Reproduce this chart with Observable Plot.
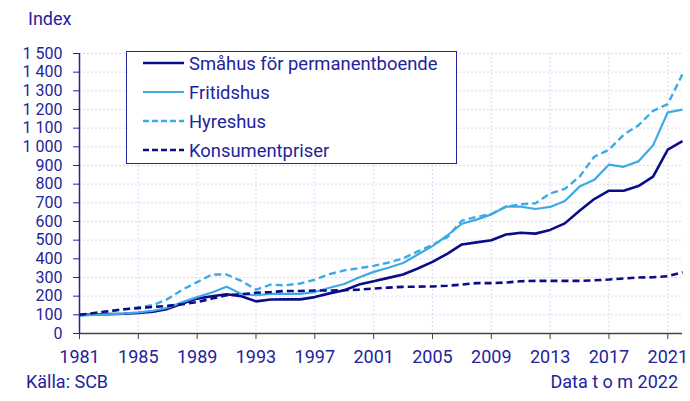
<!DOCTYPE html>
<html>
<head>
<meta charset="utf-8">
<script src="https://cdn.jsdelivr.net/npm/d3@7"></script>
<script src="https://cdn.jsdelivr.net/npm/@observablehq/plot@0.6"></script>
<style>
  html, body { margin: 0; padding: 0; background: #fff; }
  #chart { position: relative; width: 690px; height: 401px; font-family: Roboto, sans-serif; color: #23239c; }
  .note { position: absolute; font-size: 18px; line-height: 20px; white-space: nowrap; }
  #legend { position: absolute; left: 126px; top: 51px; width: 329px; height: 111px;
            border: 1.5px solid #23239c; background: #fff; }
  .item { position: absolute; left: 16px; height: 22px; display: flex; align-items: center; font-size: 18.4px; }
  .item svg { margin-right: 5px; }
</style>
</head>
<body>
<div id="chart"></div>
<script>
// Price indices, 1981 = 100
const years = [1981, 1982, 1983, 1984, 1985, 1986, 1987, 1988, 1989, 1990,
  1991, 1992, 1993, 1994, 1995, 1996, 1997, 1998, 1999, 2000,
  2001, 2002, 2003, 2004, 2005, 2006, 2007, 2008, 2009, 2010,
  2011, 2012, 2013, 2014, 2015, 2016, 2017, 2018, 2019, 2020,
  2021, 2022];

const smahus = [100, 102, 104, 106, 110, 117, 132, 160, 187, 200,
  210, 200, 172, 182, 183, 183, 195, 215, 232, 262,
  280, 298, 316, 348, 384, 427, 477, 488, 500, 530,
  540, 535, 555, 590, 658, 720, 765, 765, 790, 840,
  985, 1030];

const fritidshus = [95, 100, 103, 107, 113, 122, 138, 168, 195, 220,
  250, 212, 205, 212, 212, 212, 222, 245, 265, 300,
  330, 352, 378, 423, 468, 525, 588, 610, 638, 680,
  680, 667, 678, 710, 787, 823, 905, 893, 922, 1008,
  1185, 1199];

const hyreshus = [100, 108, 118, 128, 140, 152, 185, 235, 275, 316,
  316, 282, 235, 262, 258, 268, 288, 318, 338, 350,
  362, 380, 402, 440, 475, 515, 605, 625, 640, 680,
  692, 698, 750, 775, 840, 947, 985, 1065, 1115, 1193,
  1229, 1390];

const konsumentpriser = [100, 110, 120, 130, 136, 142, 148, 157, 168, 187,
  205, 210, 218, 222, 228, 228, 230, 230, 232, 235,
  241, 246, 250, 251, 252, 256, 262, 270, 270, 273,
  280, 282, 282, 282, 282, 285, 289, 295, 300, 301,
  307, 328];

const xTicks = [1981, 1985, 1989, 1993, 1997, 2001, 2005, 2009, 2013, 2017, 2021];
const yTicks = [0, 100, 200, 300, 400, 500, 600, 700, 800, 900, 1000, 1100, 1200, 1300, 1400, 1500];

const series = [
  {name: "Småhus för permanentboende", values: smahus, color: "#0c0c8a", dash: null, width: 2.6},
  {name: "Fritidshus", values: fritidshus, color: "#3fa9e6", dash: null, width: 2.2},
  {name: "Hyreshus", values: hyreshus, color: "#3fa9e6", dash: "7,4", width: 2.4},
  {name: "Konsumentpriser", values: konsumentpriser, color: "#0c0c8a", dash: "7,4", width: 2.6}
];

const textColor = "#23239c";
const gridColor = "#d8d8f4";
const spaced = d => d3.format(",")(d).replace(/,/g, " ");

const lineMarks = series.map(s =>
  Plot.line(years.map((y, i) => ({year: y, value: s.values[i]})), {
    x: "year", y: "value", stroke: s.color, strokeWidth: s.width,
    strokeDasharray: s.dash, strokeLinejoin: "round", strokeLinecap: "butt"
  })
);

const chart = Plot.plot({
  width: 690,
  height: 401,
  marginLeft: 79,
  marginRight: 8,
  marginTop: 53,
  marginBottom: 68,
  style: {fontFamily: "Roboto, sans-serif", fontSize: "18px", background: "white", overflow: "visible"},
  x: {domain: [1981, 2022], label: null},
  y: {domain: [0, 1500], label: null},
  marks: [
    Plot.gridY(yTicks.filter(d => d > 0), {stroke: gridColor, strokeOpacity: 1, strokeDasharray: "2,2"}),
    Plot.gridX(xTicks.filter(d => d > 1981), {stroke: gridColor, strokeOpacity: 1, strokeDasharray: "2,2"}),
    Plot.axisY(yTicks, {tickSize: 6, tickPadding: 11, tickFormat: spaced, stroke: textColor, fill: textColor,
      fontSize: 16, label: null}),
    Plot.axisX(xTicks, {tickSize: 6, tickPadding: 11, tickFormat: "d", stroke: "#444", fill: textColor, label: null}),
    ...lineMarks,
    Plot.ruleX([1981], {stroke: textColor, strokeWidth: 1.5}),
    Plot.ruleY([0], {stroke: "#444", strokeWidth: 1.5})
  ]
});

const root = document.getElementById("chart");
root.appendChild(chart);

// Axis title and footer notes
const addNote = (text, css) => {
  const el = document.createElement("div");
  el.className = "note";
  el.textContent = text;
  Object.assign(el.style, css);
  root.appendChild(el);
};
addNote("Index", {left: "28px", top: "9px"});
addNote("Källa: SCB", {left: "26px", top: "372px"});
addNote("Data t o m 2022", {right: "12px", top: "372px"});

// Legend box
const legend = document.createElement("div");
legend.id = "legend";
series.forEach((s, i) => {
  const row = document.createElement("div");
  row.className = "item";
  row.style.top = (i * 29) + "px";
  const ns = "http://www.w3.org/2000/svg";
  const svg = document.createElementNS(ns, "svg");
  svg.setAttribute("width", 41);
  svg.setAttribute("height", 6);
  const ln = document.createElementNS(ns, "line");
  ln.setAttribute("x1", 0); ln.setAttribute("x2", 41);
  ln.setAttribute("y1", 3); ln.setAttribute("y2", 3);
  ln.setAttribute("stroke", s.color);
  ln.setAttribute("stroke-width", s.width);
  if (s.dash) ln.setAttribute("stroke-dasharray", "6,3");
  svg.appendChild(ln);
  row.appendChild(svg);
  const label = document.createElement("span");
  label.textContent = s.name;
  row.appendChild(label);
  legend.appendChild(row);
});
root.appendChild(legend);
</script>
</body>
</html>
